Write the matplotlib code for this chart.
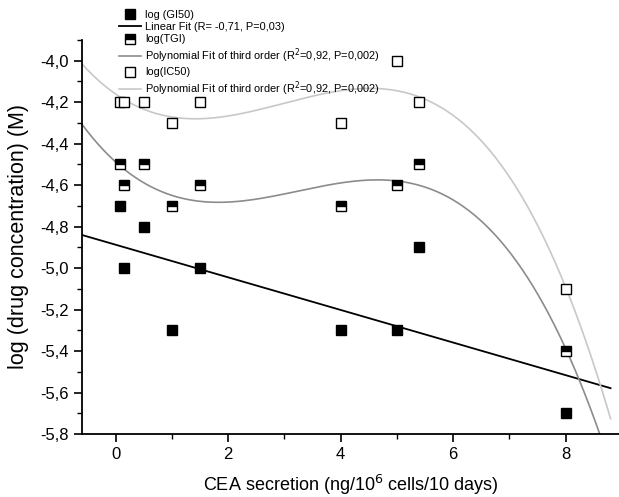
import numpy as np
import matplotlib
matplotlib.use("Agg")
import matplotlib.pyplot as plt
from matplotlib.ticker import MultipleLocator, FuncFormatter

## datos
cea = [0.07, 0.14, 0.5, 1.0, 1.5, 4.0, 5.0, 5.4, 8.0]
log_gi50 = [-4.7, -5.0, -4.8, -5.3, -5.0, -5.3, -5.3, -4.9, -5.7]
log_tgi = [-4.5, -4.6, -4.5, -4.7, -4.6, -4.7, -4.6, -4.5, -5.4]
log_ic50 = [-4.2, -4.2, -4.2, -4.3, -4.2, -4.3, -4.0, -4.2, -5.1]

lab_gi50 = "log (GI50)"
lab_lin = "Linear Fit (R= -0,71, P=0,03)"
lab_tgi = "log(TGI)"
lab_poly = "Polynomial Fit of third order (R$^2$=0,92, P=0,002)"
lab_ic50 = "log(IC50)"

plt.rcParams['font.family'] = ['Liberation Sans', 'DejaVu Sans']

fig = plt.figure(figsize=(6.19, 4.97), dpi=100)
ax = fig.add_axes([0.1325, 0.1268, 0.8675, 0.7927])

## ajustes
xf = np.linspace(-0.6, 8.8, 300)
lin = np.polyfit(cea, log_gi50, 1)
p_tgi = np.polyfit(cea, log_tgi, 3)
p_ic50 = np.polyfit(cea, log_ic50, 3)

ms = 6.5
ax.plot(cea, log_gi50, 's', color='black', ms=ms, mew=1.0, label=lab_gi50, zorder=3)
ax.plot(xf, np.polyval(lin, xf), '-', color='black', lw=1.3, label=lab_lin)
ax.plot(cea, log_tgi, 's', ms=ms, mew=1.0, color='black', fillstyle='top',
        markerfacecoloralt='white', label=lab_tgi, zorder=3)
ax.plot(xf, np.polyval(p_tgi, xf), '-', color='#8c8c8c', lw=1.2, label=lab_poly)
ax.plot(cea, log_ic50, 's', ms=ms, mew=1.0, markeredgecolor='black',
        markerfacecolor='white', label=lab_ic50, zorder=3)
ax.plot(xf, np.polyval(p_ic50, xf), '-', color='#c8c8c8', lw=1.2, label=lab_poly)

ax.set_xlim(-0.6, 8.95)
ax.set_ylim(-5.8, -3.9)

ax.spines['top'].set_visible(False)
ax.spines['right'].set_visible(False)
ax.spines['left'].set_linewidth(1.3)
ax.spines['bottom'].set_linewidth(1.3)

ax.xaxis.set_major_locator(MultipleLocator(2))
ax.xaxis.set_minor_locator(MultipleLocator(1))
ax.yaxis.set_major_locator(MultipleLocator(0.2))
ax.yaxis.set_minor_locator(MultipleLocator(0.1))
ax.yaxis.set_major_formatter(FuncFormatter(lambda v, p: ("%.1f" % v).replace('.', ',')))
ax.tick_params(which='major', direction='out', length=6, width=1.2, labelsize=12)
ax.tick_params(which='minor', direction='out', length=3.5, width=1.0)

ax.set_xlabel("CEA secretion (ng/10$^6$ cells/10 days)", fontsize=13, labelpad=8)
ax.set_ylabel("log (drug concentration) (M)", fontsize=15.5, labelpad=8)

leg = ax.legend(loc='upper left', bbox_to_anchor=(0.058, 1.09), frameon=False,
                fontsize=7.9, handlelength=2.0, handletextpad=0.4,
                labelspacing=0.2, borderpad=0)

fig.savefig("out.png", dpi=100)
